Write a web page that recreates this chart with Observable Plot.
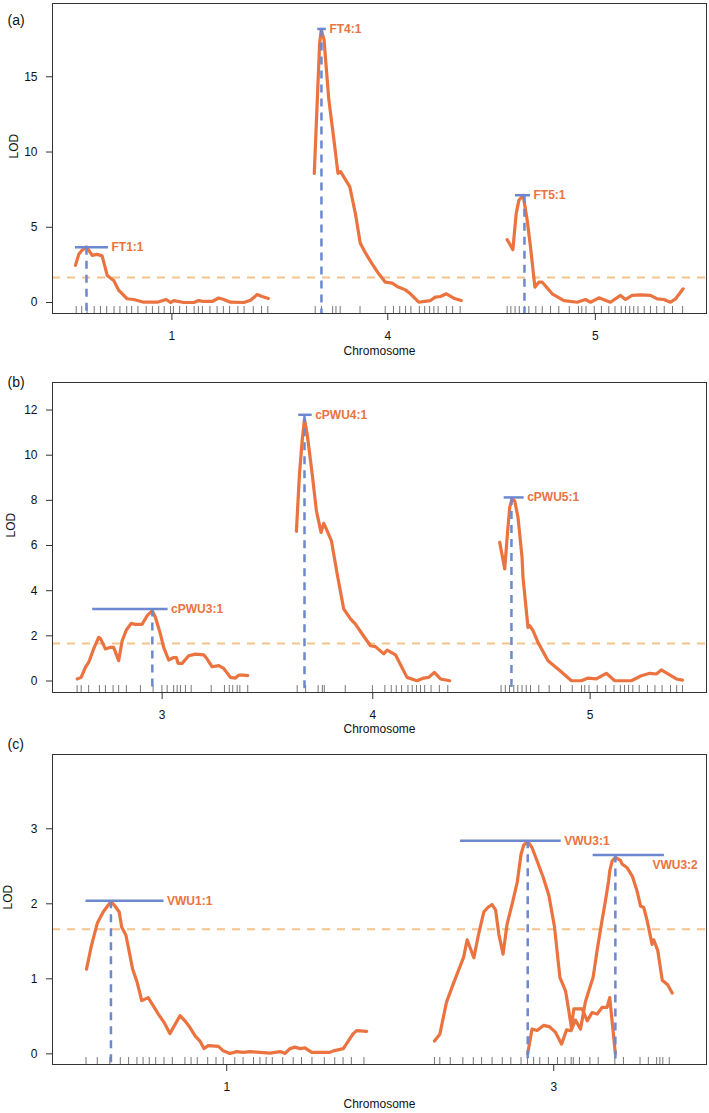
<!DOCTYPE html>
<html>
<head>
<meta charset="utf-8">
<script src="https://cdn.jsdelivr.net/npm/d3@7"></script>
<script src="https://cdn.jsdelivr.net/npm/@observablehq/plot@0.6"></script>
<style>
  html, body { margin: 0; padding: 0; background: #fff; }
  #chart { width: 709px; }
  #chart svg { display: block; }
</style>
</head>
<body>
<div id="chart"></div>
<script>
// ---------------- DATA ----------------
const threshold = 1.66;

// Panel (a) : FT
const chrA = ["1", "4", "5"];
const lenA = [105, 80, 96];
const a1Pos = [0, 1.8, 3.6, 6.0, 9.1, 11.8, 14.5, 17.3, 20.8, 23.6, 28.1, 31.7, 37.2, 44.5, 49.4, 51.7, 53.5, 59, 64.4, 67.1, 69.8, 74.4, 78, 80.7, 84.4, 91.6, 95.3, 98.9, 101.6, 105];
const a1Lod = [2.47, 3.2, 3.47, 3.7, 3.13, 3.2, 3.1, 1.8, 1.47, 0.8, 0.25, 0.2, 0.02, 0.02, 0.2, 0, 0.13, 0, 0, 0.13, 0.07, 0.07, 0.3, 0.2, 0.02, 0, 0.15, 0.53, 0.4, 0.27];
const a4Pos = [0, 2.9, 3.8, 5.3, 7.9, 10.7, 12.9, 14.3, 19.3, 22.4, 25, 28, 31.4, 35.1, 38.7, 42.4, 45.1, 49.6, 52.3, 56.9, 60, 63.2, 65.9, 68.7, 71.9, 75.9, 80];
const a4Lod = [8.58, 17.2, 18.13, 17.47, 13.5, 10.8, 8.58, 8.7, 7.7, 5.9, 3.95, 3.26, 2.58, 1.91, 1.35, 1.29, 1.07, 0.84, 0.58, 0.02, 0.07, 0.13, 0.36, 0.4, 0.58, 0.29, 0.13];
const a5Pos = [0, 3.1, 4.9, 6.4, 8.7, 10.9, 12.7, 15.1, 17.2, 19.1, 24.5, 30.9, 38.1, 42.6, 45.4, 49.9, 56.2, 61.7, 64.4, 68, 72.6, 78, 81.7, 85.3, 88.9, 91.6, 95.8];
const a5Lod = [4.18, 3.51, 5.91, 6.8, 7.13, 5.47, 3.69, 1.02, 1.35, 1.35, 0.58, 0.13, 0.02, 0.2, 0.02, 0.31, 0.02, 0.47, 0.2, 0.47, 0.51, 0.47, 0.24, 0.2, 0.02, 0.24, 0.91];
const mkA1 = [0.4, 3.4, 6.3, 10.2, 13.6, 17, 21, 24.2, 27.9, 30.6, 34, 38.5, 41.9, 45.3, 48.3, 51.7, 53.3, 56.7, 60.5, 64.6, 66.9, 69.1, 73.2, 77.1, 80.5, 83.9, 88.4, 91.8, 96.8, 101.3, 104.7];
const mkA4 = [0.5, 3.9, 10, 11.8, 14.1, 24.9, 38.6, 43.1, 46.5, 49.7, 52.6, 57.2, 60.1, 62.8, 65.1, 67.4, 71.9, 75.3, 79.4];
const mkA5 = [0, 2, 4.3, 6.6, 9.5, 11.8, 15.6, 19.1, 23.6, 28.1, 33.8, 38.8, 40.6, 42.9, 47.4, 51.3, 55.3, 58.7, 62.1, 64.4, 66.7, 68.9, 71.2, 74.6, 78, 81.4, 85.5, 90, 95.5];
const qtlANames = ["FT1:1", "FT4:1", "FT5:1"];
const qtlAChr = ["1", "4", "5"];
const qtlAPos = [6, 3.9, 9.4];
const qtlALod = [3.67, 18.18, 7.13];
const qtlALo = [0, 1.9, 4.5];
const qtlAHi = [18, 6.6, 12.7];

// Panel (b) : cPWU
const chrB = ["3", "4", "5"];
const lenB = [89, 80, 96];
const b3Pos = [0.3, 2.4, 4.6, 6.3, 8.9, 11.5, 12.4, 15, 17.6, 19.3, 21.9, 23.7, 25.9, 28.4, 30.6, 34.1, 36.7, 39.3, 41, 43.6, 45.3, 47.9, 50.5, 51.9, 52.8, 54.9, 58.3, 61.8, 66.1, 67.9, 70.5, 73.9, 76.5, 80, 82.6, 84.3, 86.9, 89];
const b3Lod = [0.09, 0.16, 0.6, 0.82, 1.42, 1.93, 1.89, 1.42, 1.49, 1.49, 0.9, 1.78, 2.26, 2.55, 2.51, 2.51, 2.89, 3.11, 2.82, 2.08, 1.49, 0.93, 1.04, 1.04, 0.78, 0.78, 1.12, 1.19, 1.16, 0.97, 0.63, 0.68, 0.56, 0.16, 0.13, 0.26, 0.26, 0.24];
const b4Pos = [0.3, 1.9, 3.3, 4.5, 5.9, 8.5, 10.7, 13.1, 14.5, 15.9, 18.5, 21.5, 24.9, 28.4, 31, 34.5, 38.8, 41.4, 45.7, 47.5, 51.8, 57.8, 63, 66.5, 69.1, 72, 75.2, 80];
const b4Lod = [6.63, 9.17, 10.64, 11.6, 10.94, 9.17, 7.54, 6.58, 6.98, 6.73, 6.21, 4.74, 3.19, 2.75, 2.52, 2.08, 1.56, 1.52, 1.2, 1.37, 1.16, 0.16, 0.01, 0.13, 0.16, 0.38, 0.09, 0.01];
const b5Pos = [1.0, 3.6, 5, 6.2, 7.4, 8.8, 10.5, 12.6, 13.1, 15.7, 16.6, 18.3, 20.9, 26.1, 31.3, 38.3, 43.5, 46.9, 51.2, 56.4, 60.8, 69.4, 74.6, 79, 82.4, 85, 88.5, 92.8, 96];
const b5Lod = [6.14, 4.96, 6.51, 7.69, 8.06, 7.98, 7.25, 5.48, 4.59, 2.37, 2.45, 2.23, 1.71, 0.9, 0.53, 0.01, 0.01, 0.13, 0.09, 0.34, 0.01, 0.01, 0.23, 0.34, 0.31, 0.49, 0.31, 0.09, 0.04];
const mkB3 = [0.3, 2.4, 6.3, 11.9, 15, 19, 21.9, 25.9, 33.2, 39.8, 44.4, 47.1, 50.5, 52.3, 54, 56.6, 59.6, 70, 76.9, 79.4, 81.2, 83.5, 84.9, 89];
const mkB4 = [0.7, 5.1, 11.6, 13.8, 14.8, 25.7, 39.8, 46.3, 49.6, 52.2, 55, 58.3, 60.5, 62.7, 64.8, 67, 70.3, 74.6, 79];
const mkB5 = [1.7, 3.9, 6.1, 8.3, 10.4, 12.6, 14.8, 17, 21.3, 26.7, 32.6, 38.7, 43.5, 45.2, 47.4, 51.7, 56.1, 60.4, 63.7, 65.9, 68, 70.2, 73.5, 77.8, 81.7, 85.4, 89.8, 93, 96];
const qtlBNames = ["cPWU3:1", "cPWU4:1", "cPWU5:1"];
const qtlBChr = ["3", "4", "5"];
const qtlBPos = [39.4, 4.5, 7.1];
const qtlBLod = [3.19, 11.79, 8.13];
const qtlBLo = [8.4, 1.5, 3.3];
const qtlBHi = [47.6, 8.5, 13.7];

// Panel (c) : VWU
const chrC = ["1", "3"];
const lenC = [105, 89];
const c1Pos = [0.2, 2, 4.2, 6.4, 9.3, 10.8, 12.4, 13.3, 14.9, 17.4, 19.1, 20.8, 23.2, 25.1, 27, 29.1, 31.3, 35.1, 36.9, 38.8, 40.7, 42.5, 44, 45.6, 49.4, 51.2, 53.7, 56.2, 58.7, 61.2, 64.9, 68.7, 72.4, 74.3, 76.1, 78, 79.9, 81.7, 84.2, 91, 92.3, 96, 99.7, 101, 104.7];
const c1Lod = [1.13, 1.44, 1.74, 1.89, 2.03, 1.97, 1.89, 1.69, 1.58, 1.13, 0.95, 0.71, 0.75, 0.64, 0.53, 0.42, 0.27, 0.51, 0.44, 0.35, 0.24, 0.17, 0.07, 0.11, 0.1, 0.04, 0.005, 0.03, 0.02, 0.03, 0.02, 0.01, 0.03, 0.005, 0.07, 0.09, 0.07, 0.08, 0.02, 0.02, 0.04, 0.07, 0.27, 0.31, 0.3];
const c3aPos = [0, 2, 4.5, 7.2, 9.7, 10.9, 12.2, 14.7, 16.5, 18.4, 19.9, 21.5, 22.8, 24, 25.6, 27.1, 29, 30.9, 32.3, 33.3, 34.8, 36.4, 38.3, 40.6, 42.7, 44.8, 46.8, 48.9, 50.1, 51.1, 52, 53.4, 55.1, 57, 58.8, 60.7, 62.6, 64.4, 65.4, 67.5];
const c3aLod = [0.17, 0.26, 0.69, 0.95, 1.18, 1.29, 1.52, 1.28, 1.6, 1.89, 1.95, 1.99, 1.92, 1.6, 1.33, 1.73, 2.0, 2.29, 2.66, 2.78, 2.83, 2.75, 2.57, 2.35, 2.11, 1.69, 1.02, 0.84, 0.58, 0.35, 0.6, 0.6, 0.6, 0.44, 0.55, 0.53, 0.62, 0.62, 0.75, 0];
const c3bPos = [34.8, 36.4, 38.3, 40.8, 43, 45.1, 47.4, 49.3, 51, 52.6, 54.5, 56.3, 57.6, 59.2, 60.7, 62.3, 63.8, 65, 65.4, 66.3, 67.5, 69.4, 70, 71.9, 73.8, 75.6, 76.9, 78.1, 79.4, 81.2, 81.8, 83.3, 85, 87, 88.7];
const c3bLod = [0, 0.33, 0.31, 0.38, 0.36, 0.29, 0.13, 0.32, 0.31, 0.45, 0.33, 0.69, 0.84, 1.02, 1.38, 1.73, 2.04, 2.31, 2.44, 2.57, 2.62, 2.58, 2.53, 2.48, 2.37, 2.17, 1.97, 1.95, 1.77, 1.46, 1.52, 1.38, 0.98, 0.92, 0.81];
const mkC1 = [0, 4.2, 8.9, 12.8, 15.9, 19, 21.3, 23.6, 26, 29.1, 32.2, 36.9, 39.2, 41.5, 45.4, 48.5, 51.2, 55.5, 58.6, 62.5, 64.9, 67.2, 69.5, 73.4, 77.3, 80.4, 84.3, 88.9, 92.8, 95.9, 99, 103.7];
const mkC3 = [0, 2, 5.9, 10.6, 14.5, 17.6, 21.5, 25.3, 28.5, 32.3, 34.7, 37, 39.3, 42.5, 45.9, 48.7, 51, 51.8, 54.1, 58, 61.1, 67.3, 70.5, 76.7, 79.8, 82.9, 84.1, 85.2, 87.6];
const qtlCNames = ["VWU1:1", "VWU3:1", "VWU3:2"];
const qtlCChr = ["1", "3", "3"];
const qtlCPos = [9.3, 34.8, 67.5];
const qtlCLod = [2.04, 2.84, 2.65];
const qtlCLo = [0, 9.7, 59.2];
const qtlCHi = [29.1, 47.3, 85.8];

// y-axis ticks
const ticksA = [0, 5, 10, 15];
const ticksB = [0, 2, 4, 6, 8, 10, 12];
const ticksC = [0, 1, 2, 3];

// ---------------- STYLE ----------------
const ORANGE = "#EB733F";
const BLUE = "#6C88CF";
const THRESH = "#F5C48C";
const FONT = "'Liberation Sans', Arial, Helvetica, sans-serif";

function buildPanel(cfg) {
  const gap = 25;
  const start = new Map();
  let acc = gap / 2;
  cfg.chrs.forEach((c, i) => { start.set(c, acc); acc += cfg.lens[i] + gap; });
  const xMax = acc - gap / 2;
  const mids = cfg.chrs.map((c, i) => start.get(c) + cfg.lens[i] / 2);
  const midLabel = new Map(mids.map((m, i) => [m, cfg.chrs[i]]));

  const lines = cfg.curves.flatMap(cv => cv.pos.map((p, i) => ({x: start.get(cv.chr) + p, y: cv.lod[i], id: cv.id})));
  const rug = cfg.markers.flatMap(m => m.pos.map(p => ({x: start.get(m.chr) + p})));
  const q = cfg.qtl.names.map((n, i) => {
    const s = start.get(cfg.qtl.chr[i]);
    return {name: n, x: s + cfg.qtl.pos[i], lod: cfg.qtl.lod[i], lo: s + cfg.qtl.lo[i], hi: s + cfg.qtl.hi[i]};
  });

  const width = 709, marginLeft = 52, marginRight = 3;
  const frameH = cfg.height - cfg.marginTop - cfg.marginBottom;
  const pxPerUnit = (width - marginLeft - marginRight) / xMax;
  const fitsRight = d => (xMax - d.hi) * pxPerUnit > d.name.length * 7.6 + 6;
  const right = q.filter(fitsRight);
  const below = q.filter(d => !fitsRight(d));

  return Plot.plot({
    width, height: cfg.height,
    marginLeft, marginRight, marginTop: cfg.marginTop, marginBottom: cfg.marginBottom,
    style: {fontFamily: FONT, fontSize: "12px", color: "#111", overflow: "visible", background: "white"},
    x: {domain: [0, xMax]},
    y: {domain: cfg.yDomain},
    marks: [
      Plot.ruleY([threshold], {stroke: THRESH, strokeWidth: 2, strokeDasharray: "8,7"}),
      Plot.ruleX(rug, {x: "x", stroke: "#777", strokeWidth: 1, insetTop: frameH - 7}),
      Plot.line(lines, {x: "x", y: "y", z: "id", stroke: ORANGE, strokeWidth: 3.2, strokeLinejoin: "round", strokeLinecap: "round"}),
      Plot.ruleX(q, {x: "x", y1: "lod", y2: cfg.yDomain[0], stroke: BLUE, strokeWidth: 2.5, strokeDasharray: "8,6"}),
      Plot.ruleY(q, {y: "lod", x1: "lo", x2: "hi", stroke: BLUE, strokeWidth: 2.5}),
      Plot.text(right, {x: "hi", y: "lod", text: "name", textAnchor: "start", dx: 3, fill: ORANGE, fontWeight: "bold", fontSize: 12}),
      Plot.text(below, {x: "hi", y: "lod", text: "name", textAnchor: "start", dx: -12, dy: 10, fill: ORANGE, fontWeight: "bold", fontSize: 12}),
      Plot.frame({stroke: "#333", strokeWidth: 1}),
      Plot.axisX({ticks: mids, tickFormat: d => midLabel.get(d), tickSize: 7, tickPadding: 11, label: null, stroke: "#333"}),
      Plot.axisY({ticks: cfg.yTicks, tickFormat: d => String(d), tickSize: 6, tickPadding: 9, label: null, stroke: "#333"}),
      Plot.text([cfg.tag], {frameAnchor: "top-left", dx: -45, dy: cfg.tagDy, textAnchor: "start", fontSize: 14, text: d => d}),
      Plot.text(["LOD"], {frameAnchor: "left", dx: cfg.lodDx, rotate: -90, fontSize: 12, text: d => d}),
      Plot.text(["Chromosome"], {frameAnchor: "bottom", dy: cfg.titleDy, fontSize: 12, text: d => d})
    ]
  });
}

const panels = [
  {
    tag: "(a)", chrs: chrA, lens: lenA,
    curves: [
      {id: "a1", chr: "1", pos: a1Pos, lod: a1Lod},
      {id: "a4", chr: "4", pos: a4Pos, lod: a4Lod},
      {id: "a5", chr: "5", pos: a5Pos, lod: a5Lod}
    ],
    markers: [{chr: "1", pos: mkA1}, {chr: "4", pos: mkA4}, {chr: "5", pos: mkA5}],
    qtl: {names: qtlANames, chr: qtlAChr, pos: qtlAPos, lod: qtlALod, lo: qtlALo, hi: qtlAHi},
    yDomain: [-0.73, 19.87], yTicks: ticksA,
    height: 362, marginTop: 3, marginBottom: 49, tagDy: 12, lodDx: -38.5, titleDy: 41
  },
  {
    tag: "(b)", chrs: chrB, lens: lenB,
    curves: [
      {id: "b3", chr: "3", pos: b3Pos, lod: b3Lod},
      {id: "b4", chr: "4", pos: b4Pos, lod: b4Lod},
      {id: "b5", chr: "5", pos: b5Pos, lod: b5Lod}
    ],
    markers: [{chr: "3", pos: mkB3}, {chr: "4", pos: mkB4}, {chr: "5", pos: mkB5}],
    qtl: {names: qtlBNames, chr: qtlBChr, pos: qtlBPos, lod: qtlBLod, lo: qtlBLo, hi: qtlBHi},
    yDomain: [-0.51, 13.22], yTicks: ticksB,
    height: 372, marginTop: 20, marginBottom: 42, tagDy: -5, lodDx: -41, titleDy: 40
  },
  {
    tag: "(c)", chrs: chrC, lens: lenC,
    curves: [
      {id: "c1", chr: "1", pos: c1Pos, lod: c1Lod},
      {id: "c3a", chr: "3", pos: c3aPos, lod: c3aLod},
      {id: "c3b", chr: "3", pos: c3bPos, lod: c3bLod}
    ],
    markers: [{chr: "1", pos: mkC1}, {chr: "3", pos: mkC3}],
    qtl: {names: qtlCNames, chr: qtlCChr, pos: qtlCPos, lod: qtlCLod, lo: qtlCLo, hi: qtlCHi},
    yDomain: [-0.142, 3.99], yTicks: ticksC,
    height: 379, marginTop: 20, marginBottom: 49, tagDy: -15, lodDx: -44, titleDy: 43
  }
];

const root = document.getElementById("chart");
panels.forEach(p => root.appendChild(buildPanel(p)));
</script>
</body>
</html>
